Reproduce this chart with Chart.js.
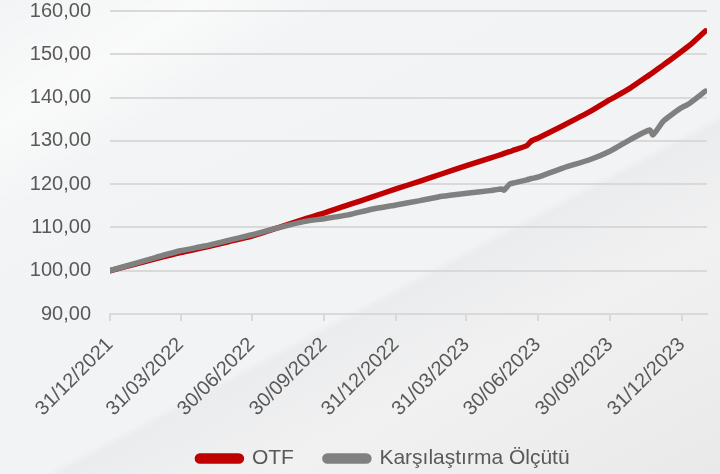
<!DOCTYPE html>
<html lang="tr">
<head>
<meta charset="utf-8">
<title>OTF / Karşılaştırma Ölçütü</title>
<script src="https://cdn.jsdelivr.net/npm/chart.js@4/dist/chart.umd.min.js"></script>
<style>
  html, body { margin: 0; padding: 0; }
  body {
    width: 720px; height: 474px; overflow: hidden;
    background:
      linear-gradient(148deg, rgba(255,255,255,0) 0%, rgba(255,255,255,0.55) 14%, rgba(255,255,255,0) 24%),
      linear-gradient(152deg, #f3f4f5 0%, #f2f3f4 58%, #ebeced 59%, #f1f1f2 72%, #e9e9ea 100%);
  }
  #wrap { position: relative; width: 720px; height: 474px; }
</style>
</head>
<body>
<div id="wrap"><canvas id="chart" width="720" height="474"></canvas></div>
<script>
// x = days since 31/12/2021
const days = [0, 30, 59, 90, 121, 151, 181, 214, 249, 273, 304, 334, 365, 396, 424, 455,
  485, 500, 503, 510, 516, 532, 538, 546, 578, 613, 638, 664, 689, 693, 706, 715, 727, 740, 760];

const otfValues = [100.0, 101.4, 102.8, 104.2, 105.4, 106.7, 108.0, 109.9, 112.0, 113.3, 115.2, 117.0,
  118.9, 120.7, 122.4, 124.3, 126.0, 126.9, 127.1, 127.5, 127.9, 128.9, 130.0, 130.6, 133.5, 136.8,
  139.5, 142.2, 145.3, 145.8, 147.5, 148.7, 150.3, 152.1, 155.4];

const benchValues = [100.0, 101.6, 103.1, 104.6, 105.7, 107.0, 108.3, 109.9, 111.4, 112.0, 112.9, 114.2,
  115.2, 116.2, 117.2, 117.9, 118.5, 118.9, 118.6, 120.0, 120.3, 121.0, 121.3, 121.6, 123.7, 125.7,
  127.6, 130.3, 132.5, 131.4, 134.5, 135.8, 137.4, 138.7, 141.5];

const tickDays   = [0, 90, 181, 273, 365, 455, 546, 638, 730];
const tickLabels = ['31/12/2021', '31/03/2022', '30/06/2022', '30/09/2022', '31/12/2022',
  '31/03/2023', '30/06/2023', '30/09/2023', '31/12/2023'];

const FONT = 'Liberation Sans, Arial, sans-serif';
const TEXT = '#595959';
const GRID = '#d9d9d9';

const toPoints = vals => vals.map((v, i) => ({ x: days[i], y: v }));

// legend sits a bit right of the canvas centre in the original
const legendShift = {
  id: 'legendShift',
  afterLayout(chart) { chart.legend.left += 60; },
};

new Chart(document.getElementById('chart'), {
  type: 'line',
  data: {
    datasets: [
      {
        label: 'OTF',
        data: toPoints(otfValues),
        borderColor: '#c00000',
        backgroundColor: '#c00000',
        borderWidth: 5.5,
        pointRadius: 0,
        tension: 0.2,
        borderCapStyle: 'round',
        order: 1,
      },
      {
        label: 'Karşılaştırma Ölçütü',
        data: toPoints(benchValues),
        borderColor: '#808080',
        backgroundColor: '#808080',
        borderWidth: 5.5,
        pointRadius: 0,
        tension: 0.2,
        borderCapStyle: 'round',
        order: 0,
      },
    ],
  },
  options: {
    responsive: false,
    animation: false,
    layout: { padding: { left: 0, right: 13, top: 11, bottom: 0 } },
    plugins: {
      tooltip: { enabled: false },
      legend: {
        position: 'bottom',
        maxHeight: 57,
        labels: {
          sort: (a, b) => a.datasetIndex - b.datasetIndex,
          boxWidth: 44,
          boxHeight: 5,
          useBorderRadius: true,
          borderRadius: 2.5,
          padding: 31,
          color: TEXT,
          font: { family: FONT, size: 21 },
        },
      },
    },
    scales: {
      x: {
        type: 'linear',
        min: 0,
        max: 762,
        afterBuildTicks: s => { s.ticks = tickDays.map(v => ({ value: v })); },
        afterFit: s => { s.height = 103; s.paddingLeft = 0; s.paddingRight = 0; },
        border: { color: GRID, width: 2 },
        grid: { drawOnChartArea: false, color: GRID, lineWidth: 2, tickLength: 7 },
        ticks: {
          autoSkip: false,
          minRotation: 45,
          maxRotation: 45,
          padding: 12,
          color: TEXT,
          font: { family: FONT, size: 20 },
          callback: v => tickLabels[tickDays.indexOf(v)] || '',
        },
      },
      y: {
        min: 90,
        max: 160,
        afterFit: s => { s.width = 110; s.paddingTop = 0; s.paddingBottom = 0; },
        border: { display: false },
        grid: { color: GRID, lineWidth: 2, drawTicks: false },
        ticks: {
          stepSize: 10,
          padding: 19,
          color: TEXT,
          font: { family: FONT, size: 20 },
          callback: v => v.toFixed(2).replace('.', ','),
        },
      },
    },
  },
  plugins: [legendShift],
});
</script>
</body>
</html>
